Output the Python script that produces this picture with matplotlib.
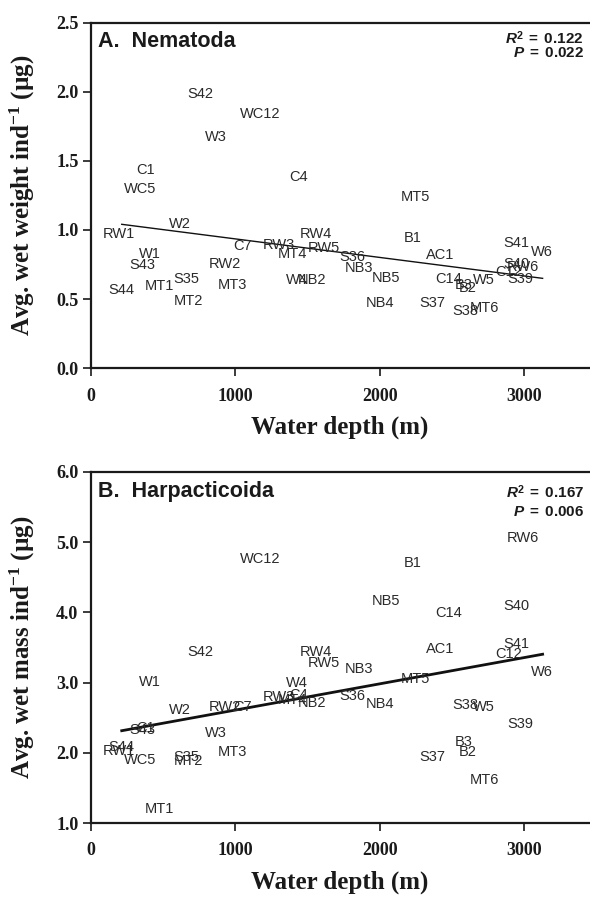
import numpy as np
import matplotlib
matplotlib.use('Agg')
import matplotlib.pyplot as plt

plt.rcParams['font.family'] = 'Liberation Serif'
plt.rcParams['font.weight'] = 'bold'
plt.rcParams['mathtext.fontset'] = 'custom'
plt.rcParams['mathtext.rm'] = 'Liberation Serif:bold'
plt.rcParams['mathtext.it'] = 'Liberation Serif:bold:italic'
plt.rcParams['mathtext.sf'] = 'Liberation Sans:bold'
plt.rcParams['mathtext.bf'] = 'Liberation Sans:bold'
plt.rcParams['mathtext.bfit'] = 'Liberation Sans:bold:italic'

# ---------------- data ----------------
stations = ['S42', 'WC12', 'W3', 'C1', 'WC5', 'C4', 'W2', 'RW1', 'C7', 'RW3',
            'RW4', 'RW5', 'MT4', 'W1', 'S43', 'RW2', 'S35', 'MT1', 'MT3', 'S44',
            'MT2', 'W4', 'NB2', 'MT5', 'B1', 'S36', 'NB3', 'NB5', 'NB4', 'AC1',
            'C14', 'B3', 'B2', 'W5', 'S37', 'S38', 'MT6', 'S41', 'W6', 'S40',
            'RW6', 'C12', 'S39']

depth = [756, 1170, 868, 380, 343, 1440, 617, 190, 1050, 1300,
         1560, 1611, 1397, 409, 355, 925, 664, 473, 983, 213,
         675, 1430, 1530, 2250, 2231, 1812, 1860, 2046, 2004, 2418,
         2476, 2581, 2612, 2725, 2369, 2594, 2725, 2947, 3125, 2950,
         2990, 2893, 2975]

nematoda = [1.983, 1.837, 1.670, 1.434, 1.299, 1.385, 1.043, 0.971, 0.884, 0.892,
            0.969, 0.868, 0.826, 0.824, 0.747, 0.752, 0.644, 0.595, 0.602, 0.566,
            0.489, 0.638, 0.638, 1.241, 0.944, 0.803, 0.723, 0.651, 0.470, 0.819,
            0.643, 0.599, 0.577, 0.638, 0.470, 0.416, 0.434, 0.908, 0.843, 0.754,
            0.735, 0.696, 0.643]

harpacticoida = [3.432, 4.761, 2.278, 2.349, 1.897, 2.823, 2.610, 2.030, 2.657, 2.800,
                 3.430, 3.275, 2.752, 3.013, 2.325, 2.657, 1.944, 1.199, 2.016, 2.087,
                 1.883, 2.990, 2.714, 3.047, 4.699, 2.813, 3.194, 4.162, 2.695, 3.479,
                 3.987, 2.158, 2.016, 2.657, 1.944, 2.681, 1.613, 3.546, 3.155, 4.091,
                 5.056, 3.407, 2.406]

# regression lines (intercept, slope) and x-range of fitted line
fit_x_range = [213, 3130]
nem_fit = (1.0695, -1.339e-4)
harp_fit = (2.235, 3.735e-4)

panel_titles = ['A.  Nematoda', 'B.  Harpacticoida']
r2_texts = ['0.122', '0.167']
p_texts = ['0.022', '0.006']
ylabels = ['Avg. wet weight ind$^{-1}$ (µg)', 'Avg. wet mass ind$^{-1}$ (µg)']
xlabel = 'Water depth (m)'
xticks = [0, 1000, 2000, 3000]
yticks_top = [0.0, 0.5, 1.0, 1.5, 2.0, 2.5]
yticks_bot = [1.0, 2.0, 3.0, 4.0, 5.0, 6.0]

# ---------------- figure ----------------
W, H = 590, 901
fig = plt.figure(figsize=(W / 100, H / 100), dpi=100)
fig.patch.set_facecolor('white')

L, R = 91, 596
ax1 = fig.add_axes([L / W, 1 - 368.3 / H, (R - L) / W, (368.3 - 22.5) / H])
ax2 = fig.add_axes([L / W, 1 - 823 / H, (R - L) / W, (823 - 472) / H])

def setup(ax, yvals, ylim, yticks, fit, lw, title, r2, p, r2_off, p_off, title_off):
    ax.set_xlim(0, 3500)
    ax.set_ylim(*ylim)
    ax.set_xticks(xticks)
    ax.set_yticks(yticks)
    ax.set_xticklabels([str(t) for t in xticks])
    ax.set_yticklabels(['%.1f' % t for t in yticks])
    for s in ax.spines.values():
        s.set_linewidth(1.6)
        s.set_color('#1a1a1a')
    ax.tick_params(direction='out', length=6, width=1.2, labelsize=13,
                   colors='#1a1a1a')
    ax.tick_params(axis='x', pad=8)
    ax.tick_params(axis='y', pad=3)
    for st, d, v in zip(stations, depth, yvals):
        ax.text(d, v, st, ha='center', va='center', fontsize=10.5,
                family='Liberation Sans', fontweight='normal', color='#2a2a2a')
    xs = np.array(fit_x_range, dtype=float)
    ax.plot(xs, fit[0] + fit[1] * xs, color='#111111', lw=lw)
    axh = ax.get_window_extent().height
    ax.text(6.5 / 505, 1 - title_off / axh, title, transform=ax.transAxes,
            ha='left', va='center', fontsize=15.5, family='Liberation Sans',
            fontweight='bold', color='#1a1a1a')
    xr = (584 - 91) / 505
    ax.text(xr, 1 - r2_off / axh, r'$\mathbfit{R}^{\mathsf{2}}\mathsf{\ =\ ' + r2 + '}$',
            transform=ax.transAxes, ha='right', va='center', fontsize=11,
            color='#1a1a1a')
    ax.text(xr, 1 - p_off / axh, r'$\mathbfit{P}\mathsf{\ =\ ' + p + '}$',
            transform=ax.transAxes, ha='right', va='center', fontsize=11,
            color='#1a1a1a')

setup(ax1, nematoda, (0, 2.5), yticks_top, nem_fit, 1.0, panel_titles[0],
      r2_texts[0], p_texts[0], 15.3, 30.5, 19.0)
setup(ax2, harpacticoida, (1, 6), yticks_bot, harp_fit, 2.0, panel_titles[1],
      r2_texts[1], p_texts[1], 19.7, 40.0, 19.7)

fig.text(22 / W, 1 - 195 / H, ylabels[0], rotation=90, ha='center', va='center',
         fontsize=18, color='#1a1a1a')
fig.text(22 / W, 1 - 647 / H, ylabels[1], rotation=90, ha='center', va='center',
         fontsize=18, color='#1a1a1a')
fig.text(340 / W, 1 - 427 / H, xlabel, ha='center', va='center', fontsize=18,
         color='#1a1a1a')
fig.text(340 / W, 1 - 882 / H, xlabel, ha='center', va='center', fontsize=18,
         color='#1a1a1a')

fig.savefig('out.png', dpi=100)
